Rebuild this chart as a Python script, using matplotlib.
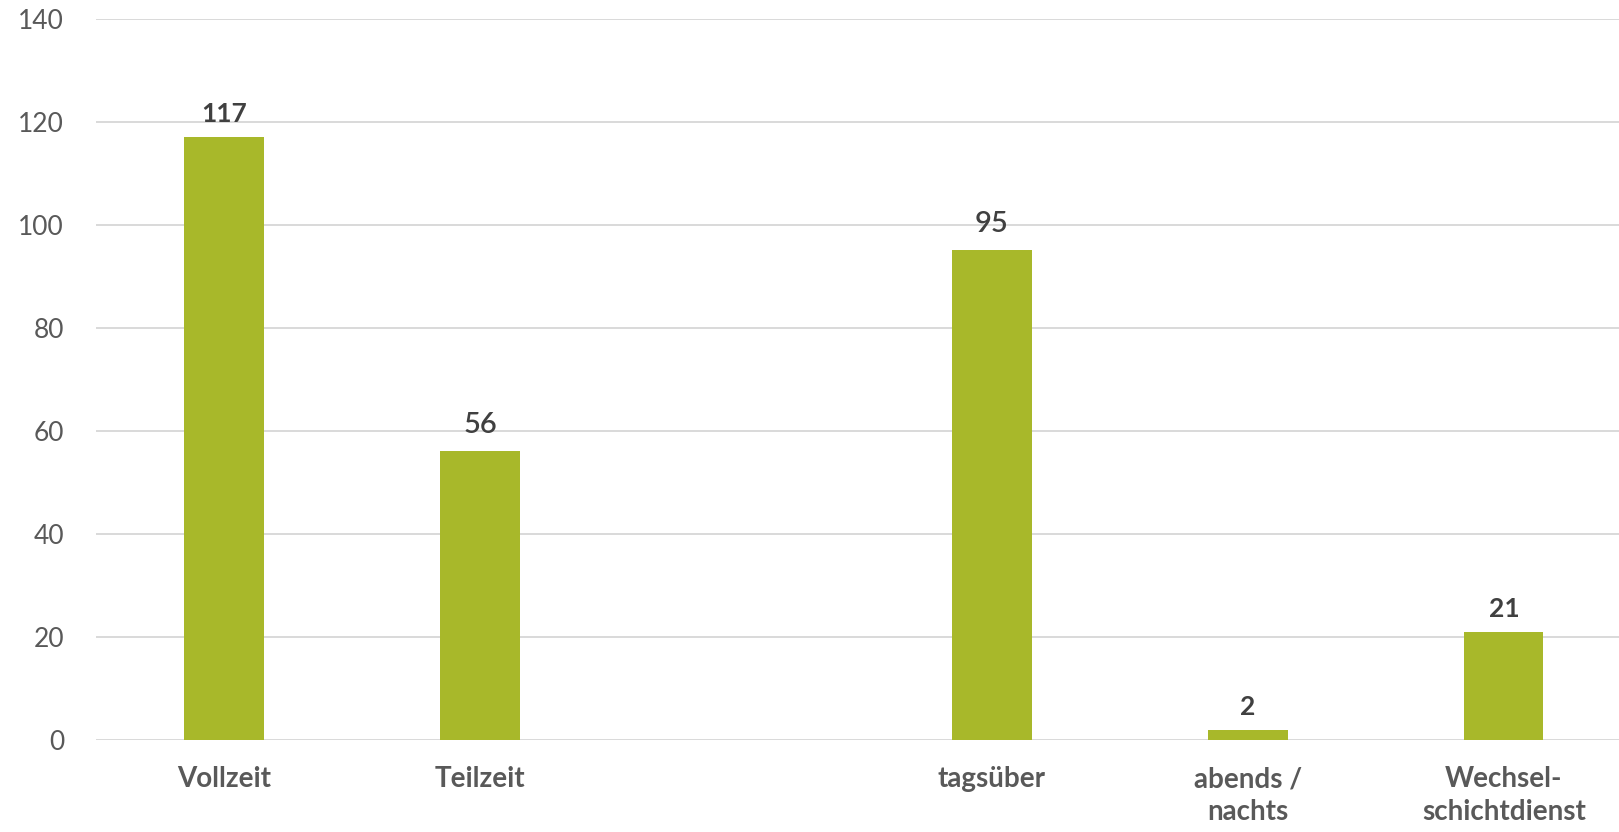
import numpy as np
import matplotlib.pyplot as plt

plt.rcParams['font.family'] = ['Lato', 'DejaVu Sans']

# ------------------------------------------------------------------
# Data (empty slot separates the two groups)
# ------------------------------------------------------------------
categories = ["Vollzeit", "Teilzeit", "", "tagsüber", "abends /\nnachts", "Wechsel-\nschichtdienst"]
values     = [117, 56, np.nan, 95, 2, 21]
bold_label = [True, False, False, False, True, True]   # weight differs in the original
y_ticks    = [0, 20, 40, 60, 80, 100, 120, 140]

bar_color  = "#a8b82a"
grid_color = "#d9d9d9"

fig = plt.figure(figsize=(16.19, 8.32), dpi=100)
ax = fig.add_axes([0.0593, 0.1106, 0.9407, 0.867])

x = np.arange(len(categories))
ax.bar(x, values, width=0.31, color=bar_color, zorder=3)

# value labels
for xi, v, b in zip(x, values, bold_label):
    if np.isnan(v):
        continue
    ax.annotate(f"{v:g}", xy=(xi, v), xytext=(0, 8 if b else 10),
                textcoords="offset points", ha="center", va="bottom",
                fontsize=19 if b else 21, fontweight="bold" if b else "semibold",
                color="#404040")

# ------------------------------------------------------------------
# Axes cosmetics
# ------------------------------------------------------------------
ax.set_ylim(0, 140)
ax.set_xlim(-0.5, 5.45)
ax.set_yticks(y_ticks)
ax.set_xticks(x)
ax.set_xticklabels(categories, fontsize=20, fontweight="bold", color="#595959",
                   linespacing=1.3, va="top")
ax.tick_params(axis="y", labelsize=19, labelcolor="#595959", length=0, pad=23)
ax.tick_params(axis="x", length=0, pad=19)

ax.grid(axis="y", color=grid_color, lw=1.4, zorder=0)
for s in ax.spines.values():
    s.set_visible(False)

fig.savefig("out.png", dpi=100)
